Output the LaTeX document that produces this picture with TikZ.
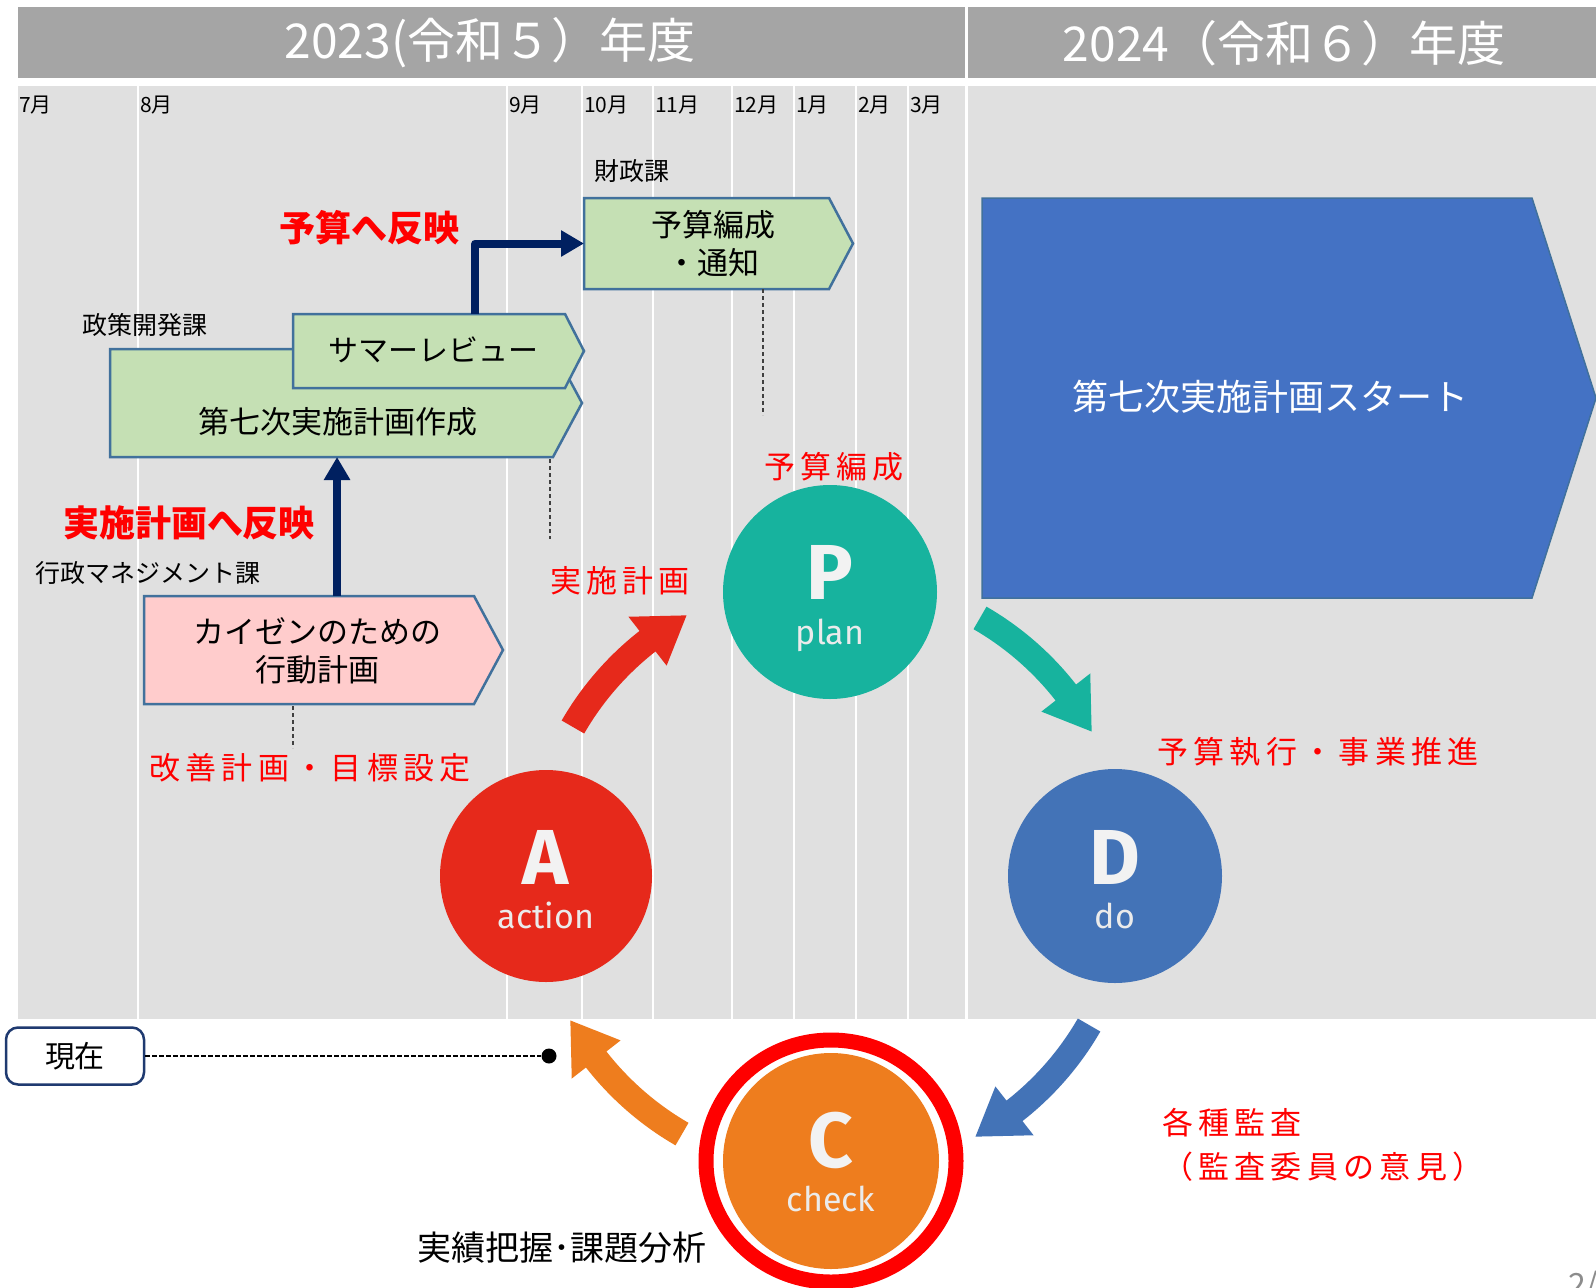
\documentclass[tikz,border=0pt]{standalone}
\usepackage{fontspec}
\setmainfont{Noto Sans CJK JP}
\newfontfamily\jpsp[LetterSpace=17]{Noto Sans CJK JP}
\newfontfamily\pdcafont{Fira Sans}
\usetikzlibrary{calc,arrows.meta}
\definecolor{hdrgray}{HTML}{A5A5A5}
\definecolor{bodygray}{HTML}{E0E0E0}
\definecolor{grnfill}{HTML}{C5E0B4}
\definecolor{boxline}{HTML}{41719C}
\definecolor{pinkfill}{HTML}{FFCCCC}
\definecolor{bigblue}{HTML}{4472C4}
\definecolor{navy}{HTML}{002060}
\definecolor{pcol}{HTML}{17B39E}
\definecolor{acol}{HTML}{E6291B}
\definecolor{dcol}{HTML}{4373B7}
\definecolor{ccol}{HTML}{EE7D1E}
\definecolor{nowline}{HTML}{1F3A70}
\newcommand\fsz[1]{\fontsize{#1}{#1}\selectfont}
\newcommand\cycarrow[2]{%
  \fill[#1] ($(ctr)+(#2:285pt)$) arc[start angle=#2, end angle=#2-22, radius=285pt]
    -- ($(ctr)+(#2-22:267pt)$) -- ($(ctr)+(#2-31:298pt)$) -- ($(ctr)+(#2-22:329pt)$)
    -- ($(ctr)+(#2-22:311pt)$) arc[start angle=#2-22, end angle=#2, radius=311pt] -- cycle;}
\begin{document}
\begin{tikzpicture}[x=1pt,y=-1pt,
  region/.style={inner sep=0pt, outer sep=0pt},
  boxshape/.style={draw=boxline, line width=2.5pt, line join=miter},
  lbl/.style={inner sep=0pt, font=\fsz{25}},
  boxtxt/.style={inner sep=0pt, align=center},
  redlbl/.style={inner sep=0pt, text=red, font=\jpsp\fsz{31}},
  redbold/.style={inner sep=0pt, text=red, font=\bfseries\fsz{36}},
  month/.style={anchor=west, inner sep=0pt, font=\fsz{21}},
  hdr/.style={inner sep=0pt, text=white, font=\fsz{48}},
  vline/.style={draw=white, line width=2.5pt},
  navyarrow/.style={draw=navy, line width=8pt, line join=round, -{Triangle[length=23pt,width=25pt]}},
  dashline/.style={draw=black!75, line width=1.3pt, dash pattern=on 4pt off 3pt},
  pdcacirc/.style={circle, inner sep=0pt},
  pdcaletter/.style={anchor=base, inner sep=0pt, text depth=0pt, text=white!95!black, font=\pdcafont\bfseries\fsz{78}},
  pdcaword/.style={anchor=base, inner sep=0pt, text=white!92!black, font=\pdcafont\fsz{34}}
]
\useasboundingbox (0,0) rectangle (1596,1288);
\fill[white] (0,0) rectangle (1596,1288);
% header and body
\fill[hdrgray] (18,7) rectangle (1596,78);
\fill[bodygray] (18,86) rectangle (1596,1019);
\foreach \mx in {138,507,582,653,732,794,856,908} {\draw[vline] (\mx,86) -- (\mx,1019);}
\draw[draw=white, line width=3pt] (966.5,7) -- (966.5,1019);
\node[hdr] (h1) at (490,43) {2023(令和５）年度};
\node[hdr] (h2) at (1284,43) {2024（令和６）年度};
% months
\node[month] (m7) at (19,105) {7月};
\node[month] (m8) at (140,105) {8月};
\node[month] (m9) at (509,105) {9月};
\node[month] (m10) at (584,105) {10月};
\node[month] (m11) at (655,105) {11月};
\node[month] (m12) at (734,105) {12月};
\node[month] (m1) at (796,105) {1月};
\node[month] (m2) at (858,105) {2月};
\node[month] (m3) at (910,105) {3月};
% region nodes
\node[region, minimum width=443pt, minimum height=108pt] (plan7) at (331.5,403) {};
\node[region, minimum width=272pt, minimum height=74pt] (summer) at (429,351) {};
\node[region, minimum width=245pt, minimum height=91pt] (budget) at (706.5,243.5) {};
\node[region, minimum width=330pt, minimum height=108pt] (kaizen) at (309,650) {};
\node[region, minimum width=550pt, minimum height=400pt] (start7) at (1257,398) {};
% pentagon shapes
\draw[boxshape, fill=grnfill] (plan7.north west) -- (plan7.north east) -- ($(plan7.east)+(29,0)$) -- (plan7.south east) -- (plan7.south west) -- cycle;
\draw[boxshape, fill=grnfill] (summer.north west) -- (summer.north east) -- ($(summer.east)+(19,0)$) -- (summer.south east) -- (summer.south west) -- cycle;
\draw[boxshape, fill=grnfill] (budget.north west) -- (budget.north east) -- ($(budget.east)+(24,0)$) -- (budget.south east) -- (budget.south west) -- cycle;
\draw[boxshape, fill=pinkfill] (kaizen.north west) -- (kaizen.north east) -- ($(kaizen.east)+(29,0)$) -- (kaizen.south east) -- (kaizen.south west) -- cycle;
\draw[draw=boxline, line width=1.5pt, fill=bigblue] (start7.north west) -- (start7.north east) -- ($(start7.east)+(64,0)$) -- (start7.south east) -- (start7.south west) -- cycle;
% box texts
\node[boxtxt, font=\fsz{31}] (plan7t) at (338,422) {第七次実施計画作成};
\node[boxtxt, font=\fsz{30}] (summert) at (433,350) {サマーレビュー};
\node[boxtxt, font=\fontsize{31}{38}\selectfont] (budgett) at (713,244) {予算編成\\・通知};
\node[boxtxt, font=\fontsize{31}{38}\selectfont] (kaizent) at (317,651) {カイゼンのための\\行動計画};
\node[boxtxt, text=white, font=\fsz{36}] (start7t) at (1270,397) {第七次実施計画スタート};
% department labels
\node[lbl] (zaisei) at (632,171) {財政課};
\node[lbl] (seisaku) at (145,325) {政策開発課};
\node[lbl] (gyosei) at (148,573) {行政マネジメント課};
% navy arrows
\coordinate (kzup) at ($(kaizen.north west)!0.585!(kaizen.north east)$);
\draw[navyarrow] (kzup) -- (kzup |- plan7.south);
\coordinate (smup) at ($(summer.north west)!0.67!(summer.north east)$);
\draw[navyarrow] (smup) |- (budget.west);
\node[redbold] (yosanhan) at (369,228) {予算へ反映};
\node[redbold] (jisshihan) at (189,523) {実施計画へ反映};
% dashed leaders
\draw[dashline] ($(budget.south west)!0.73!(budget.south east)$) -- ++(0,126);
\draw[dashline] ($(plan7.south east)+(-3,2)$) -- ++(0,80);
\draw[dashline] ($(kaizen.south west)+(149,2)$) -- ++(0,42);
% red labels
\node[redlbl] (kaizenlbl) at (310,768) {改善計画・目標設定};
\node[redlbl] (jisshilbl) at (620,581) {実施計画};
\node[redlbl] (yosanlbl) at (834,467) {予算編成};
\node[redlbl] (shikkolbl) at (1318,752) {予算執行・事業推進};
\node[redlbl, anchor=west] (kansa1) at (1162,1123) {各種監査};
\node[redlbl, anchor=west] (kansa2) at (1162,1167) {（監査委員の意見）};
% PDCA cycle
\coordinate (ctr) at (831,876);
\cycarrow{acol}{150}
\cycarrow{pcol}{60}
\cycarrow{dcol}{-30}
\cycarrow{ccol}{240}
\node[pdcacirc, fill=pcol, minimum size=214pt] (P) at (830,592) {};
\node[pdcacirc, fill=acol, minimum size=212pt] (A) at (546,876) {};
\node[pdcacirc, fill=dcol, minimum size=214pt] (D) at (1115,876) {};
\node[pdcacirc, fill=ccol, minimum size=216pt] (C) at (831,1161) {};
\node[pdcaletter] (Pl) at ($(P)+(0,7)$) {P};
\node[pdcaword] (Pw) at ($(P)+(0,52)$) {plan};
\node[pdcaletter] (Al) at ($(A)+(0,8)$) {A};
\node[pdcaword] (Aw) at ($(A)+(0,52)$) {action};
\node[pdcaletter] (Dl) at ($(D)+(0,8)$) {D};
\node[pdcaword] (Dw) at ($(D)+(0,52)$) {do};
\node[pdcaletter] (Cl) at ($(C)+(0,6)$) {C};
\node[pdcaword] (Cw) at ($(C)+(0,50)$) {check};
\draw[draw=red, line width=15pt] (C) ellipse [x radius=125pt, y radius=121pt];
% now marker
\node[draw=nowline, line width=2.5pt, rounded corners=12pt, minimum width=138pt, minimum height=57pt, fill=white, font=\fsz{30}] (now) at (75,1056) {現在};
\node[circle, fill=black, inner sep=0pt, minimum size=15pt] (nowdot) at (549,1056) {};
\draw[draw=black, line width=1.5pt, dash pattern=on 4.5pt off 2.5pt] (now.east) -- (nowdot.west);
\node[inner sep=0pt, font=\fsz{34}] (jisseki) at (562,1248) {実績把握･課題分析};
\node[anchor=base west, inner sep=0pt, text=black!45, font=\fsz{32}] (pg) at (1568,1296) {2/};
\end{tikzpicture}
\end{document}
